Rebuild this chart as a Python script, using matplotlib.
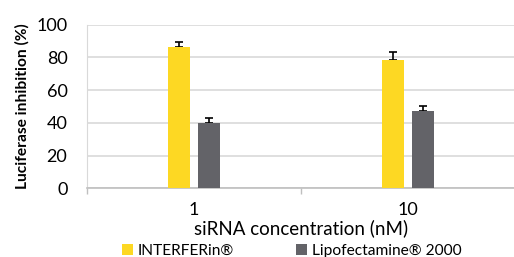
import numpy as np
import matplotlib.pyplot as plt

# data
concentrations = ['1', '10']
interferin = [86.2, 78.6]
interferin_err = [3.0, 4.7]
lipofectamine = [39.7, 47.2]
lipofectamine_err = [3.3, 3.1]

yellow = '#FDD823'
grey = '#636368'

plt.rcParams['font.family'] = ['Lato', 'DejaVu Sans']

fig = plt.figure(figsize=(5.14, 2.57), dpi=100)
ax = fig.add_axes([0.169, 0.267, 0.833, 0.637])

x = np.arange(len(concentrations))
w = 0.105
ax.bar(x - 0.07, interferin, w, color=yellow, zorder=3, label='INTERFERin®')
ax.bar(x + 0.07, lipofectamine, w, color=grey, zorder=3, label='Lipofectamine® 2000')
# only the upper half of the error bar shows, the lower cap hides behind the bar
ax.errorbar(x - 0.07, interferin, yerr=[np.zeros(2), interferin_err], fmt='none',
            ecolor='black', elinewidth=1.2, capsize=3, capthick=1.2, zorder=2)
ax.errorbar(x + 0.07, lipofectamine, yerr=[np.zeros(2), lipofectamine_err], fmt='none',
            ecolor='black', elinewidth=1.2, capsize=3, capthick=1.2, zorder=2)

ax.set_xlim(-0.5, 1.5)
ax.set_ylim(0, 100)
ax.set_yticks(range(0, 101, 20))
ax.yaxis.grid(True, color='#d9d9d9', linewidth=1.2, zorder=0)
ax.set_xticks(x)
ax.set_xticklabels(concentrations)
ax.set_xticks([-0.5, 0.5, 1.5], minor=True)
ax.tick_params(axis='x', which='major', length=0, labelsize=13, pad=10)
ax.tick_params(axis='x', which='minor', length=4, color='#bfbfbf', width=1)
ax.tick_params(axis='y', length=0, labelsize=13, pad=14)

for s in ['top', 'right']:
    ax.spines[s].set_visible(False)
ax.spines['left'].set_color('#d9d9d9')
ax.spines['bottom'].set_color('#bfbfbf')
ax.spines['bottom'].set_linewidth(1.2)

ax.set_ylabel('Luciferase inhibition (%)', fontsize=11.2, fontweight='bold', labelpad=5)
ax.set_xlabel('siRNA concentration (nM)', fontsize=13.5, labelpad=1)

fig.legend(loc='lower center', bbox_to_anchor=(0.568, -0.058), ncol=2, frameon=False,
           fontsize=11.2, handlelength=0.7, handleheight=0.7, columnspacing=4.0,
           handletextpad=0.3)

fig.savefig('out.png', dpi=100)
